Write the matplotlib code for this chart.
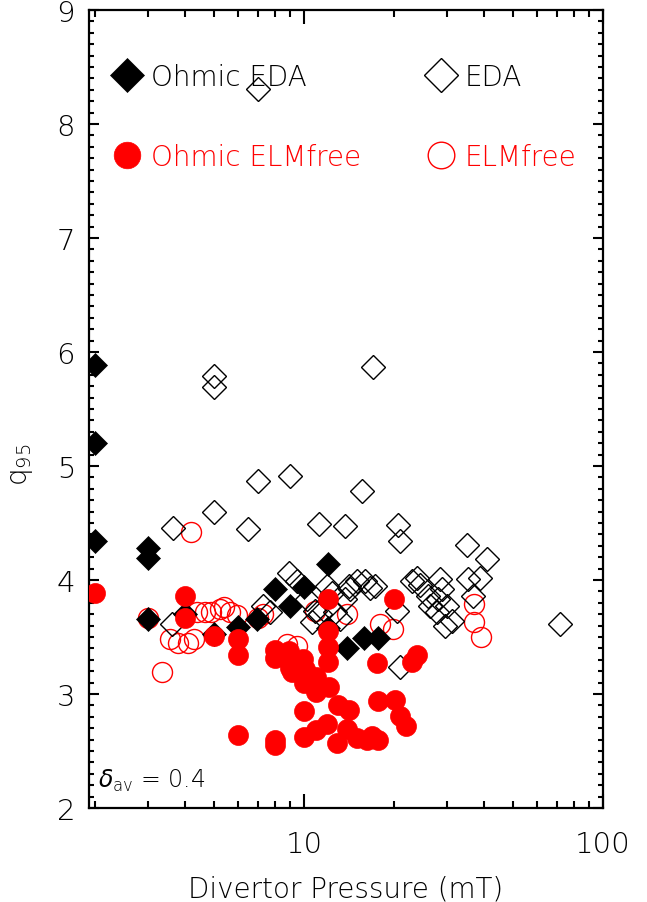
import numpy as np
import matplotlib
matplotlib.use('Agg')
import matplotlib.pyplot as plt
from matplotlib.ticker import LogLocator, MultipleLocator, FixedFormatter, NullFormatter, FixedLocator

plt.rcParams['font.family'] = ['DejaVu Sans']
plt.rcParams['font.weight'] = 'light'
plt.rcParams['axes.labelweight'] = 'light'
plt.rcParams['mathtext.default'] = 'regular'

# Ohmic EDA (filled black diamonds)
ohm_eda_p = [2.0, 2.0, 2.0, 3.0, 3.0, 3.0, 4.0, 5.0, 6.0, 6.95, 8.0, 9.0,
             10.0, 12.0, 12.0, 13.9, 15.9, 17.7]
ohm_eda_q = [5.89, 5.20, 4.34, 4.28, 4.19, 3.66, 3.70, 3.53, 3.59, 3.66, 3.92, 3.77,
             3.94, 4.14, 3.58, 3.40, 3.49, 3.49]

# EDA (open diamonds)
eda_p = [7.0, 5.0, 5.0, 17.0, 7.0, 9.0, 15.6, 5.0, 3.66, 6.5, 11.2, 13.7,
         20.6, 20.9, 35.0, 40.9, 71.8, 21.0, 3.62, 8.93, 9.45, 7.31, 7.7,
         11.9, 12.4, 10.9, 11.3, 10.6, 12.7, 13.2, 14.1, 15.0, 16.0, 16.6,
         13.7, 10.2, 17.3, 23.8, 24.4, 22.9, 28.5, 28.9, 28.1, 30.0, 31.2,
         29.6, 35.4, 38.8, 36.8, 20.4, 26.0, 27.8, 26.3, 14.2]
eda_q = [8.31, 5.79, 5.69, 5.87, 4.87, 4.91, 4.78, 4.60, 4.46, 4.45, 4.49, 4.47,
         4.48, 4.34, 4.31, 4.18, 3.61, 3.24, 3.61, 4.06, 3.99, 3.77, 3.72,
         3.95, 3.89, 3.73, 3.70, 3.63, 3.72, 3.66, 3.95, 3.99, 3.99, 3.93,
         3.83, 3.83, 3.95, 4.02, 3.96, 3.99, 4.01, 3.92, 3.83, 3.77, 3.64,
         3.60, 4.01, 4.02, 3.86, 3.73, 3.86, 3.72, 3.77, 3.92]

# Ohmic ELMfree (filled red circles)
ohm_elm_p = [2.0, 4.0, 4.0, 5.0, 6.0, 6.0, 6.0, 8.0, 8.0, 8.0, 8.0, 8.9,
             9.0, 9.1, 9.9, 10.0, 10.1, 10.7, 11.0, 11.0, 12.1, 10.0, 10.0,
             11.0, 11.9, 12.0, 12.0, 12.0, 12.0, 12.9, 13.0, 14.1, 13.9, 15.0,
             16.2, 16.9, 17.7, 17.7, 17.6, 20.0, 20.2, 21.0, 21.9, 22.9, 23.9]
ohm_elm_q = [3.89, 3.86, 3.67, 3.51, 3.48, 3.34, 2.64, 3.39, 3.32, 2.60, 2.55, 3.38,
             3.23, 3.19, 3.31, 3.10, 3.22, 3.13, 3.15, 3.02, 3.06, 2.85, 2.62,
             2.68, 2.74, 3.83, 3.55, 3.41, 3.28, 2.57, 2.90, 2.86, 2.69, 2.61,
             2.60, 2.63, 2.60, 2.94, 3.27, 3.83, 2.95, 2.81, 2.72, 3.28, 3.34]

# ELMfree (open red circles)
elm_p = [4.19, 3.0, 3.34, 3.57, 3.8, 4.1, 4.3, 4.4, 4.65, 4.9, 5.24, 5.4,
         5.66, 5.96, 7.04, 7.31, 8.75, 9.46, 10.9, 13.9, 17.9, 19.9,
         37.0, 37.0, 39.0]
elm_q = [4.42, 3.67, 3.19, 3.48, 3.45, 3.45, 3.48, 3.72, 3.72, 3.72, 3.75, 3.76,
         3.72, 3.69, 3.67, 3.70, 3.44, 3.42, 3.73, 3.70, 3.61, 3.57,
         3.79, 3.63, 3.50]

fig = plt.figure(figsize=(6.47, 9.03), dpi=100)
ax = fig.add_axes([89/647, 1 - 809/903, 514/647, 798/903])

ms_d = 12.7
ms_o = 14.4
h_elm, = ax.plot(elm_p, elm_q, 'o', mfc='none', mec='red', mew=1.0, ms=ms_o,
                 label='ELMfree', zorder=2)
h_eda, = ax.plot(eda_p, eda_q, 'D', mfc='none', mec='black', mew=1.0, ms=ms_d,
                 label='EDA', zorder=3)
h_oeda, = ax.plot(ohm_eda_p, ohm_eda_q, 'D', mfc='black', mec='black', mew=0.5,
                  ms=ms_d, label='Ohmic EDA', zorder=4)
h_oelm, = ax.plot(ohm_elm_p, ohm_elm_q, 'o', mfc='red', mec='red', mew=0.5,
                  ms=ms_o, label='Ohmic ELMfree', zorder=5)

ax.set_xscale('log')
ax.set_xlim(1.91, 100)
ax.set_ylim(2, 9)

ax.xaxis.set_major_locator(FixedLocator([10, 100]))
ax.xaxis.set_major_formatter(FixedFormatter(['10', '100']))
ax.xaxis.set_minor_locator(LogLocator(base=10, subs=np.arange(2, 10)))
ax.xaxis.set_minor_formatter(NullFormatter())
ax.yaxis.set_major_locator(MultipleLocator(1))
ax.yaxis.set_minor_locator(MultipleLocator(0.1))

ax.tick_params(which='both', direction='in', top=True, right=True, width=1.5,
               labelsize=21, labelcolor='black')
ax.tick_params(axis='y', which='major', length=7.2, pad=10)
ax.tick_params(axis='y', which='minor', length=3.6)
ax.tick_params(axis='x', which='major', length=10, pad=16)
ax.tick_params(axis='x', which='minor', length=5)
for s in ax.spines.values():
    s.set_linewidth(1.6)

ax.set_xlabel('Divertor Pressure (mT)', fontsize=20, labelpad=12)
ax.set_ylabel(r'q$_{95}$', fontsize=20)
ax.yaxis.set_label_coords(-0.105, 0.431)

ax.text(0.017, 0.027, r'$\mathit{\delta}_{av}$ = 0.4', transform=ax.transAxes,
        fontsize=17, ha='left', va='baseline')

leg_kw = dict(loc='upper left', frameon=False, fontsize=20, borderaxespad=0,
              borderpad=0, handlelength=1.2, handletextpad=0.26,
              labelspacing=1.88, markerscale=1.33)
leg1 = ax.legend(handles=[h_oeda, h_oelm], bbox_to_anchor=(0.0414, 0.934), **leg_kw)
for t, c in zip(leg1.get_texts(), ['black', 'red']):
    t.set_color(c)
ax.add_artist(leg1)
leg2 = ax.legend(handles=[h_eda, h_elm], bbox_to_anchor=(0.652, 0.934), **leg_kw)
for t, c in zip(leg2.get_texts(), ['black', 'red']):
    t.set_color(c)

fig.savefig('out.png', dpi=100)
